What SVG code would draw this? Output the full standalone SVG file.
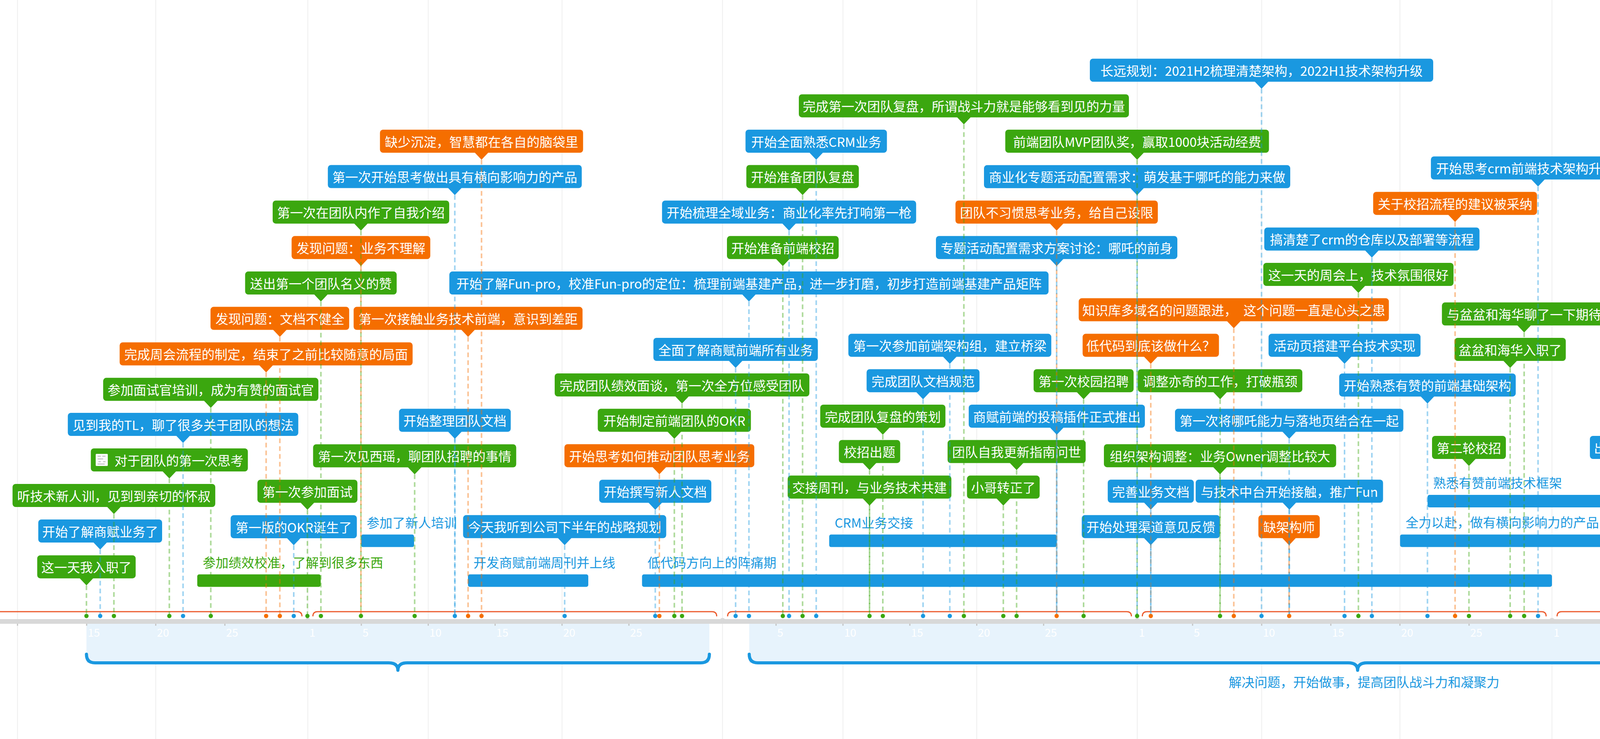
<svg xmlns="http://www.w3.org/2000/svg" width="6920" height="1892" viewBox="0 0 6920 1892">
<style>
text{font-family:"Noto Sans CJK SC","Noto Sans",sans-serif}
.node text{fill:#fff;font-size:33px;text-anchor:middle;dominant-baseline:central}
.b{fill:#1a98e0}.g{fill:#3ba70f}.o{fill:#f56e00}
.c path{fill:none;stroke-width:4;stroke-dasharray:12 8;stroke-opacity:.42}
.cb{stroke:#1a98e0}.cg{stroke:#3ba70f}.co{stroke:#f56e00}
.rt{font-size:33px;dominant-baseline:central}
.tick{fill:#fff;font-size:28px;dominant-baseline:central}
.grid line{stroke:#eeeeee;stroke-width:2}
.red{fill:none;stroke:#ec5a2c;stroke-width:3}
.brace{fill:none;stroke:#1a98e0;stroke-width:8;stroke-linecap:round;stroke-linejoin:round}
.band{fill:#e7f3fc}
.bl{fill:#1a98e0;font-size:33px;text-anchor:middle;dominant-baseline:central}
</style>
<rect width="6920" height="1892" fill="#fff"/>
<g id="grid" class="grid">
<line x1="44.8" y1="0" x2="44.8" y2="1892"/><line x1="398.7" y1="0" x2="398.7" y2="1892"/><line x1="788" y1="0" x2="788" y2="1892"/><line x1="1096.3" y1="0" x2="1096.3" y2="1892"/><line x1="1438.8" y1="0" x2="1438.8" y2="1892"/><line x1="1849.7" y1="0" x2="1849.7" y2="1892"/><line x1="2158" y1="0" x2="2158" y2="1892"/><line x1="2500.5" y1="0" x2="2500.5" y2="1892"/><line x1="2911.4" y1="0" x2="2911.4" y2="1892"/><line x1="3229.9" y1="0" x2="3229.9" y2="1892"/><line x1="3583.8" y1="0" x2="3583.8" y2="1892"/><line x1="3973.1" y1="0" x2="3973.1" y2="1892"/><line x1="4281.4" y1="0" x2="4281.4" y2="1892"/><line x1="4623.9" y1="0" x2="4623.9" y2="1892"/><line x1="5034.8" y1="0" x2="5034.8" y2="1892"/><line x1="5353.3" y1="0" x2="5353.3" y2="1892"/><line x1="5707.2" y1="0" x2="5707.2" y2="1892"/><line x1="6096.5" y1="0" x2="6096.5" y2="1892"/><line x1="6404.8" y1="0" x2="6404.8" y2="1892"/><line x1="6747.3" y1="0" x2="6747.3" y2="1892"/>
</g>
<g id="phases">
<rect class="band" x="221.3" y="1597" width="1594.7" height="100"/>
<rect class="band" x="1918" y="1597" width="3115" height="100"/>
<rect class="band" x="5070" y="1597" width="1471" height="100"/>
<path class="brace" d="M221.3 1675Q221.3 1697 243.3 1697H994.6Q1018.6 1697 1018.6 1716Q1018.6 1697 1042.6 1697H1794Q1816 1697 1816 1675"/>
<path class="brace" d="M1918 1675Q1918 1697 1940 1697H3451.5Q3475.5 1697 3475.5 1716Q3475.5 1697 3499.5 1697H5011Q5033 1697 5033 1675"/>
<path class="brace" d="M5070 1675Q5070 1697 5092 1697H5781.5Q5805.5 1697 5805.5 1716Q5805.5 1697 5829.5 1697H6519Q6541 1697 6541 1675"/>
<text class="bl" x="3492" y="1745">解决问题，开始做事，提高团队战斗力和凝聚力</text>
<text class="bl" x="5818" y="1745">全面熟悉业务，步入正轨</text>
</g>
<g id="axis">
<rect x="0" y="1585" width="6920" height="12" fill="#d8d8d8"/>
<g fill="#d8d8d8"><circle cx="788" cy="1589" r="7"/><circle cx="1849.7" cy="1589" r="7"/><circle cx="2911.4" cy="1589" r="7"/><circle cx="3973.1" cy="1589" r="7"/><circle cx="5034.8" cy="1589" r="7"/><circle cx="6096.5" cy="1589" r="7"/></g>
<g stroke="#c4c4c4" stroke-width="3">
<path d="M44.8 1597v5M221.8 1597v5M398.7 1597v5M575.7 1597v5M925 1597v5M1096.3 1597v5M1267.5 1597v5M1438.8 1597v5M1610 1597v5M1986.7 1597v5M2158 1597v5M2329.2 1597v5M2500.5 1597v5M2671.7 1597v5M3053 1597v5M3229.9 1597v5M3406.9 1597v5M3583.8 1597v5M3760.8 1597v5M4110.1 1597v5M4281.4 1597v5M4452.6 1597v5M4623.9 1597v5M4795.1 1597v5M5176.4 1597v5M5353.3 1597v5M5530.3 1597v5M5707.2 1597v5M5884.2 1597v5M6233.5 1597v5M6404.8 1597v5M6576 1597v5M6747.3 1597v5"/>
</g>
<path class="red" d="M-260 1578Q-260 1566 -248 1566H761Q773 1566 773 1578"/>
<path class="red" d="M801 1578Q801 1566 813 1566H1822.7Q1834.7 1566 1834.7 1578"/>
<path class="red" d="M1862.7 1578Q1862.7 1566 1874.7 1566H2884.4Q2896.4 1566 2896.4 1578"/>
<path class="red" d="M2924.4 1578Q2924.4 1566 2936.4 1566H3946.1Q3958.1 1566 3958.1 1578"/>
<path class="red" d="M3986.1 1578Q3986.1 1566 3998.1 1566H5007.8Q5019.8 1566 5019.8 1578"/>
<path class="red" d="M5047.8 1578Q5047.8 1566 5059.8 1566H6069.5Q6081.5 1566 6081.5 1578"/>
<path class="red" d="M6109.5 1578Q6109.5 1566 6121.5 1566H7131Q7143 1566 7143 1578"/>
<g class="tick">
<text x="47.8" y="1618">10</text><text x="224.8" y="1618">15</text><text x="401.7" y="1618">20</text><text x="578.7" y="1618">25</text>
<text x="792" y="1618">1</text><text x="928" y="1618">5</text><text x="1099.3" y="1618">10</text><text x="1270.5" y="1618">15</text><text x="1441.8" y="1618">20</text><text x="1613" y="1618">25</text>
<text x="1853.7" y="1618">1</text><text x="1989.7" y="1618">5</text><text x="2161" y="1618">10</text><text x="2332.2" y="1618">15</text><text x="2503.5" y="1618">20</text><text x="2674.7" y="1618">25</text>
<text x="2915.4" y="1618">1</text><text x="3056" y="1618">5</text><text x="3232.9" y="1618">10</text><text x="3409.9" y="1618">15</text><text x="3586.8" y="1618">20</text><text x="3763.8" y="1618">25</text>
<text x="3977.1" y="1618">1</text><text x="4113.1" y="1618">5</text><text x="4284.4" y="1618">10</text><text x="4455.6" y="1618">15</text><text x="4626.9" y="1618">20</text><text x="4798.1" y="1618">25</text>
<text x="5038.8" y="1618">1</text><text x="5179.4" y="1618">5</text><text x="5356.3" y="1618">10</text><text x="5533.3" y="1618">15</text><text x="5710.2" y="1618">20</text><text x="5887.2" y="1618">25</text>
<text x="6100.5" y="1618">1</text><text x="6236.5" y="1618">5</text><text x="6407.8" y="1618">10</text><text x="6579" y="1618">15</text><text x="6750.3" y="1618">20</text>
</g>
</g>
<g id="ranges">
<g id="r1" class="b"><text class="rt" x="938.5" y="1336.6">参加了新人培训</text><rect x="924.5" y="1368.6" width="135.5" height="32" rx="5"/></g>
<g id="r2" class="g"><text class="rt" x="519" y="1438.5">参加绩效校准，了解到很多东西</text><rect x="505" y="1470.5" width="316" height="32" rx="5"/></g>
<g id="r3" class="b"><text class="rt" x="1212" y="1438.5">开发商赋前端周刊并上线</text><rect x="1198" y="1470.5" width="308" height="32" rx="5"/></g>
<g id="r4" class="b"><text class="rt" x="1657.6" y="1438.5">低代码方向上的阵痛期</text><rect x="1643.6" y="1470.5" width="2329.4" height="32" rx="5"/></g>
<g id="r5" class="b"><text class="rt" x="2136.7" y="1336.6">CRM业务交接</text><rect x="2122.7" y="1368.6" width="582.3" height="32" rx="5"/></g>
<g id="r6" class="b"><text class="rt" x="3668.6" y="1235">熟悉有赞前端技术框架</text><rect x="3654.6" y="1267" width="626" height="32" rx="5"/></g>
<g id="r7" class="b"><text class="rt" x="3598.2" y="1336.4">全力以赴，做有横向影响力的产品：哪吒</text><rect x="3584.2" y="1368.4" width="2476.4" height="32" rx="5"/></g>
<g id="r8" class="b"><text class="rt" x="5155.3" y="1235">优化fun-pro，并熟悉fun-pro的代码以及逻辑</text><rect x="5141.3" y="1267" width="352.8" height="32" rx="5"/></g>
<g id="r9" class="b"><text class="rt" x="4946.4" y="1438.5">fun组件库接入npm platform</text><rect x="4932.4" y="1470.5" width="172.9" height="32" rx="5"/></g>
</g>
<g id="nodes">
<g id="n1" class="node o"><rect x="972.7" y="332" width="520" height="59" rx="8"/><path d="M1214.7 390L1232.7 409L1250.7 390Z"/><text x="1232.7" y="361.5">缺少沉淀，智慧都在各自的脑袋里</text></g>
<g id="n2" class="node b"><rect x="839.3" y="422.5" width="650" height="59" rx="8"/><path d="M1146.3 480.5L1164.3 499.5L1182.3 480.5Z"/><text x="1164.3" y="452">第一次开始思考做出具有横向影响力的产品</text></g>
<g id="n3" class="node g"><rect x="698" y="513.4" width="452" height="59" rx="8"/><path d="M906 571.4L924 590.4L942 571.4Z"/><text x="924" y="542.9">第一次在团队内作了自我介绍</text></g>
<g id="n4" class="node o"><rect x="746.5" y="604.3" width="355" height="59" rx="8"/><path d="M906 662.3L924 681.3L942 662.3Z"/><text x="924" y="633.8">发现问题：业务不理解</text></g>
<g id="n5" class="node g"><rect x="627.5" y="695.1" width="388" height="59" rx="8"/><path d="M803.5 753.1L821.5 772.1L839.5 753.1Z"/><text x="821.5" y="724.6">送出第一个团队名义的赞</text></g>
<g id="n6" class="node b"><rect x="1150.3" y="695.1" width="1534" height="59" rx="8"/><path d="M1899.3 753.1L1917.3 772.1L1935.3 753.1Z"/><text x="1917.3" y="724.6">开始了解Fun-pro，校准Fun-pro的定位：梳理前端基建产品，进一步打磨，初步打造前端基建产品矩阵</text></g>
<g id="n7" class="node o"><rect x="538.9" y="785.6" width="355" height="59" rx="8"/><path d="M698.4 843.6L716.4 862.6L734.4 843.6Z"/><text x="716.4" y="815.1">发现问题：文档不健全</text></g>
<g id="n8" class="node o"><rect x="905.3" y="785.6" width="586" height="59" rx="8"/><path d="M1180.3 843.6L1198.3 862.6L1216.3 843.6Z"/><text x="1198.3" y="815.1">第一次接触业务技术前端，意识到差距</text></g>
<g id="n9" class="node o"><rect x="306.3" y="876.5" width="750" height="59" rx="8"/><path d="M663.3 934.5L681.3 953.5L699.3 934.5Z"/><text x="681.3" y="906">完成周会流程的制定，结束了之前比较随意的局面</text></g>
<g id="n10" class="node g"><rect x="264.1" y="967.3" width="551" height="59" rx="8"/><path d="M521.6 1025.3L539.6 1044.3L557.6 1025.3Z"/><text x="539.6" y="996.8">参加面试官培训，成为有赞的面试官</text></g>
<g id="n12" class="node b"><rect x="173.6" y="1057" width="590" height="59" rx="8"/><path d="M450.6 1115L468.6 1134L486.6 1115Z"/><text x="468.6" y="1086.5">见到我的TL，聊了很多关于团队的想法</text></g>
<g id="n13" class="node g"><rect x="232.5" y="1148" width="402" height="59" rx="8"/><path d="M415.5 1206L433.5 1225L451.5 1206Z"/><rect x="245" y="1162" width="31" height="31" rx="2" fill="#fafafa"/><path d="M250 1168h8M262 1168h8M250 1175h14M252 1182h6M264 1182h6M250 1188h18" stroke="#b8b8b8" stroke-width="2"/><text x="458" y="1177.5">对于团队的第一次思考</text></g>
<g id="n14" class="node g"><rect x="32.1" y="1239" width="519" height="59" rx="8"/><path d="M273.6 1297L291.6 1316L309.6 1297Z"/><text x="291.6" y="1268.5">听技术新人训，见到到亲切的怀叔</text></g>
<g id="n15" class="node b"><rect x="98" y="1330" width="317" height="59" rx="8"/><path d="M238.5 1388L256.5 1407L274.5 1388Z"/><text x="256.5" y="1359.5">开始了解商赋业务了</text></g>
<g id="n16" class="node g"><rect x="95.3" y="1421.7" width="252" height="59" rx="8"/><path d="M203.3 1479.7L221.3 1498.7L239.3 1479.7Z"/><text x="221.3" y="1451.2">这一天我入职了</text></g>
<g id="n17" class="node g"><rect x="659" y="1228.2" width="256" height="59" rx="8"/><path d="M769 1286.2L787 1305.2L805 1286.2Z"/><text x="787" y="1257.7">第一次参加面试</text></g>
<g id="n18" class="node b"><rect x="590.5" y="1319" width="323" height="59" rx="8"/><path d="M734 1377L752 1396L770 1377Z"/><text x="752" y="1348.5">第一版的OKR诞生了</text></g>
<g id="n21" class="node b"><rect x="1021.5" y="1046.6" width="286" height="59" rx="8"/><path d="M1146.5 1104.6L1164.5 1123.6L1182.5 1104.6Z"/><text x="1164.5" y="1076.1">开始整理团队文档</text></g>
<g id="n22" class="node g"><rect x="801.5" y="1137.5" width="520" height="59" rx="8"/><path d="M1043.5 1195.5L1061.5 1214.5L1079.5 1195.5Z"/><text x="1061.5" y="1167">第一次见西瑶，聊团队招聘的事情</text></g>
<g id="n24" class="node b"><rect x="1185.5" y="1318.8" width="520" height="59" rx="8"/><path d="M1427.5 1376.8L1445.5 1395.8L1463.5 1376.8Z"/><text x="1445.5" y="1348.3">今天我听到公司下半年的战略规划</text></g>
<g id="n25" class="node b"><rect x="1534" y="1228.2" width="287" height="59" rx="8"/><path d="M1659.5 1286.2L1677.5 1305.2L1695.5 1286.2Z"/><text x="1677.5" y="1257.7">开始撰写新人文档</text></g>
<g id="n26" class="node o"><rect x="1445" y="1137.2" width="486" height="59" rx="8"/><path d="M1670 1195.2L1688 1214.2L1706 1195.2Z"/><text x="1688" y="1166.7">开始思考如何推动团队思考业务</text></g>
<g id="n27" class="node g"><rect x="1530.3" y="1046.6" width="392" height="59" rx="8"/><path d="M1708.3 1104.6L1726.3 1123.6L1744.3 1104.6Z"/><text x="1726.3" y="1076.1">开始制定前端团队的OKR</text></g>
<g id="n28" class="node g"><rect x="1420" y="956" width="652" height="59" rx="8"/><path d="M1728 1014L1746 1033L1764 1014Z"/><text x="1746" y="985.5">完成团队绩效面谈，第一次全方位感受团队</text></g>
<g id="n29" class="node b"><rect x="1672.7" y="865" width="421" height="59" rx="8"/><path d="M1865.2 923L1883.2 942L1901.2 923Z"/><text x="1883.2" y="894.5">全面了解商赋前端所有业务</text></g>
<g id="n34" class="node g"><rect x="2147.5" y="1126.4" width="157" height="59" rx="8"/><path d="M2208 1184.4L2226 1203.4L2244 1184.4Z"/><text x="2226" y="1155.9">校招出题</text></g>
<g id="n35" class="node g"><rect x="2016.5" y="1217.4" width="419" height="59" rx="8"/><path d="M2208 1275.4L2226 1294.4L2244 1275.4Z"/><text x="2226" y="1246.9">交接周刊，与业务技术共建</text></g>
<g id="n36" class="node g"><rect x="2099.8" y="1036" width="320.5" height="59" rx="8"/><path d="M2242 1094L2260 1113L2278 1094Z"/><text x="2260" y="1065.5">完成团队复盘的策划</text></g>
<g id="n37" class="node b"><rect x="2218.5" y="945.2" width="289" height="59" rx="8"/><path d="M2345 1003.2L2363 1022.2L2381 1003.2Z"/><text x="2363" y="974.7">完成团队文档规范</text></g>
<g id="n38" class="node b"><rect x="2171.8" y="854.6" width="519.5" height="59" rx="8"/><path d="M2413.5 912.6L2431.5 931.6L2449.5 912.6Z"/><text x="2431.5" y="884.1">第一次参加前端架构组，建立桥梁</text></g>
<g id="n39" class="node b"><rect x="1908.5" y="332" width="362" height="59" rx="8"/><path d="M2071.5 390L2089.5 409L2107.5 390Z"/><text x="2089.5" y="361.5">开始全面熟悉CRM业务</text></g>
<g id="n40" class="node g"><rect x="1910.6" y="422.5" width="288" height="59" rx="8"/><path d="M2036.6 480.5L2054.6 499.5L2072.6 480.5Z"/><text x="2054.6" y="452">开始准备团队复盘</text></g>
<g id="n41" class="node b"><rect x="1694.8" y="513.4" width="650.5" height="59" rx="8"/><path d="M2002 571.4L2020 590.4L2038 571.4Z"/><text x="2020" y="542.9">开始梳理全域业务：商业化率先打响第一枪</text></g>
<g id="n42" class="node g"><rect x="1861" y="604.3" width="286" height="59" rx="8"/><path d="M1986 662.3L2004 681.3L2022 662.3Z"/><text x="2004" y="633.8">开始准备前端校招</text></g>
<g id="n43" class="node g"><rect x="2045" y="241.4" width="845" height="59" rx="8"/><path d="M2449.5 299.4L2467.5 318.4L2485.5 299.4Z"/><text x="2467.5" y="270.9">完成第一次团队复盘，所谓战斗力就是能够看到见的力量</text></g>
<g id="n44" class="node b"><rect x="2790" y="150.2" width="879" height="59" rx="8"/><path d="M3211.5 208.2L3229.5 227.2L3247.5 208.2Z"/><text x="3229.5" y="179.7">长远规划：2021H2梳理清楚架构，2022H1技术架构升级</text></g>
<g id="n45" class="node g"><rect x="2573.5" y="332" width="675" height="59" rx="8"/><path d="M2893 390L2911 409L2929 390Z"/><text x="2911" y="361.5">前端团队MVP团队奖，赢取1000块活动经费</text></g>
<g id="n46" class="node b"><rect x="2519" y="422.8" width="784" height="59" rx="8"/><path d="M2893 480.8L2911 499.8L2929 480.8Z"/><text x="2911" y="452.3">商业化专题活动配置需求：萌发基于哪吒的能力来做</text></g>
<g id="n47" class="node o"><rect x="2446" y="513.5" width="518" height="59" rx="8"/><path d="M2687 571.5L2705 590.5L2723 571.5Z"/><text x="2705" y="543">团队不习惯思考业务，给自己设限</text></g>
<g id="n48" class="node b"><rect x="2396" y="604.2" width="618" height="59" rx="8"/><path d="M2687 662.2L2705 681.2L2723 662.2Z"/><text x="2705" y="633.7">专题活动配置需求方案讨论：哪吒的前身</text></g>
<g id="n49" class="node o"><rect x="2761.5" y="763.6" width="794" height="59" rx="8"/><path d="M3140.5 821.6L3158.5 840.6L3176.5 821.6Z"/><text x="3158.5" y="793.1">知识库多域名的问题跟进，　这个问题一直是心头之患</text></g>
<g id="n50" class="node o"><rect x="2771.5" y="854.6" width="349" height="59" rx="8"/><path d="M2928 912.6L2946 931.6L2964 912.6Z"/><text x="2946" y="884.1">低代码到底该做什么？</text></g>
<g id="n51" class="node g"><rect x="2646" y="945.2" width="256" height="59" rx="8"/><path d="M2756 1003.2L2774 1022.2L2792 1003.2Z"/><text x="2774" y="974.7">第一次校园招聘</text></g>
<g id="n52" class="node g"><rect x="2913" y="945.2" width="421" height="59" rx="8"/><path d="M3105.5 1003.2L3123.5 1022.2L3141.5 1003.2Z"/><text x="3123.5" y="974.7">调整亦奇的工作，打破瓶颈</text></g>
<g id="n53" class="node b"><rect x="3236.5" y="582.5" width="551" height="59" rx="8"/><path d="M3494 640.5L3512 659.5L3530 640.5Z"/><text x="3512" y="612">搞清楚了crm的仓库以及部署等流程</text></g>
<g id="n54" class="node g"><rect x="3234" y="673" width="487" height="59" rx="8"/><path d="M3459.5 731L3477.5 750L3495.5 731Z"/><text x="3477.5" y="702.5">这一天的周会上，技术氛围很好</text></g>
<g id="n55" class="node b"><rect x="3247.5" y="854.6" width="389" height="59" rx="8"/><path d="M3424 912.6L3442 931.6L3460 912.6Z"/><text x="3442" y="884.1">活动页搭建平台技术实现</text></g>
<g id="n56" class="node b"><rect x="3428.3" y="956.2" width="452" height="59" rx="8"/><path d="M3636.3 1014.2L3654.3 1033.2L3672.3 1014.2Z"/><text x="3654.3" y="985.7">开始熟悉有赞的前端基础架构</text></g>
<g id="n57" class="node b"><rect x="2479.9" y="1036" width="451" height="59" rx="8"/><path d="M2687.4 1094L2705.4 1113L2723.4 1094Z"/><text x="2705.4" y="1065.5">商赋前端的投稿插件正式推出</text></g>
<g id="n58" class="node g"><rect x="2425.8" y="1126.6" width="353.5" height="59" rx="8"/><path d="M2584.5 1184.6L2602.5 1203.6L2620.5 1184.6Z"/><text x="2602.5" y="1156.1">团队自我更新指南问世</text></g>
<g id="n59" class="node g"><rect x="2475.5" y="1217.6" width="186" height="59" rx="8"/><path d="M2550.5 1275.6L2568.5 1294.6L2586.5 1275.6Z"/><text x="2568.5" y="1247.1">小哥转正了</text></g>
<g id="n60" class="node b"><rect x="3008" y="1046.6" width="584.6" height="59" rx="8"/><path d="M3282.3 1104.6L3300.3 1123.6L3318.3 1104.6Z"/><text x="3300.3" y="1076.1">第一次将哪吒能力与落地页结合在一起</text></g>
<g id="n61" class="node g"><rect x="2826" y="1137.2" width="594.5" height="59" rx="8"/><path d="M3105.2 1195.2L3123.2 1214.2L3141.2 1195.2Z"/><text x="3123.2" y="1166.7">组织架构调整：业务Owner调整比较大</text></g>
<g id="n62" class="node b"><rect x="2835.8" y="1228" width="220.4" height="59" rx="8"/><path d="M2928 1286L2946 1305L2964 1286Z"/><text x="2946" y="1257.5">完善业务文档</text></g>
<g id="n63" class="node b"><rect x="3060.9" y="1228" width="479.7" height="59" rx="8"/><path d="M3282.7 1286L3300.7 1305L3318.7 1286Z"/><text x="3300.7" y="1257.5">与技术中台开始接触，推广Fun</text></g>
<g id="n64" class="node b"><rect x="2769.3" y="1318.8" width="353.5" height="59" rx="8"/><path d="M2928 1376.8L2946 1395.8L2964 1376.8Z"/><text x="2946" y="1348.3">开始处理渠道意见反馈</text></g>
<g id="n65" class="node o"><rect x="3221.5" y="1318.8" width="157" height="59" rx="8"/><path d="M3282 1376.8L3300 1395.8L3318 1376.8Z"/><text x="3300" y="1348.3">缺架构师</text></g>
<g id="n66" class="node b"><rect x="3663.1" y="400.5" width="548.7" height="59" rx="8"/><path d="M3919.4 458.5L3937.4 477.5L3955.4 458.5Z"/><text x="3937.4" y="430">开始思考crm前端技术架构升级方案</text></g>
<g id="n67" class="node o"><rect x="3515.3" y="491.2" width="419.4" height="59" rx="8"/><path d="M3707 549.2L3725 568.2L3743 549.2Z"/><text x="3725" y="520.7">关于校招流程的建议被采纳</text></g>
<g id="n68" class="node g"><rect x="3691.3" y="774.3" width="421" height="59" rx="8"/><path d="M3883.8 832.3L3901.8 851.3L3919.8 832.3Z"/><text x="3901.8" y="803.8">与盆盆和海华聊了一下期待</text></g>
<g id="n69" class="node g"><rect x="3723.7" y="865" width="284.7" height="59" rx="8"/><path d="M3848 923L3866 942L3884 923Z"/><text x="3866" y="894.5">盆盆和海华入职了</text></g>
<g id="n70" class="node g"><rect x="4620.5" y="571.4" width="553" height="59" rx="8"/><path d="M4879 629.4L4897 648.4L4915 629.4Z"/><text x="4897" y="600.9">听怀叔分享，如何打造敏捷技术团队</text></g>
<g id="n71" class="node b"><rect x="4612.2" y="662" width="433.7" height="59" rx="8"/><path d="M4811 720L4829 739L4847 720Z"/><text x="4829" y="691.5">fun-pro接入npm platform</text></g>
<g id="n72" class="node b"><rect x="4502.2" y="753" width="380" height="59" rx="8"/><path d="M4674.2 811L4692.2 830L4710.2 811Z"/><text x="4692.2" y="782.5">开始看《精益数据分析》</text></g>
<g id="n73" class="node g"><rect x="4237.7" y="843.6" width="427.8" height="59" rx="8"/><path d="M4433.6 901.6L4451.6 920.6L4469.6 901.6Z"/><text x="4451.6" y="873.1">确定了新同学的试用期OKR</text></g>
<g id="n74" class="node b"><rect x="4224.1" y="934.6" width="319" height="59" rx="8"/><path d="M4365.6 992.6L4383.6 1011.6L4401.6 992.6Z"/><text x="4383.6" y="964.1">最终确定哪吒的方向</text></g>
<g id="n75" class="node g"><rect x="4556.1" y="934.6" width="272.2" height="59" rx="8"/><path d="M4674.2 992.6L4692.2 1011.6L4710.2 992.6Z"/><text x="4692.2" y="964.1">1024技术嘉年华</text></g>
<g id="n76" class="node g"><rect x="4174.2" y="1025" width="418.6" height="59" rx="8"/><path d="M4365.5 1083L4383.5 1102L4401.5 1083Z"/><text x="4383.5" y="1054.5">开始开发哪吒系统实现方案</text></g>
<g id="n77" class="node g"><rect x="4615.1" y="1036" width="222.5" height="59" rx="8"/><path d="M4708.3 1094L4726.3 1113L4744.3 1094Z"/><text x="4726.3" y="1065.5">最后一轮校招</text></g>
<g id="n78" class="node g"><rect x="3666" y="1116" width="189" height="59" rx="8"/><path d="M3742.5 1174L3760.5 1193L3778.5 1174Z"/><text x="3760.5" y="1145.5">第二轮校招</text></g>
<g id="n79" class="node b"><rect x="4070.1" y="1116" width="284.7" height="59" rx="8"/><path d="M4194.4 1174L4212.4 1193L4230.4 1174Z"/><text x="4212.4" y="1145.5">出校招前端笔试题</text></g>
<g id="n80" class="node g"><rect x="4530" y="1126.6" width="256" height="59" rx="8"/><path d="M4640 1184.6L4658 1203.6L4676 1184.6Z"/><text x="4658" y="1156.1">与怀叔聊了一下</text></g>
<g id="n83" class="node b"><rect x="4394" y="1217.6" width="526" height="59" rx="8"/><path d="M4639 1275.6L4657 1294.6L4675 1275.6Z"/><text x="4657" y="1247.1">开始投入NPM接入发布平台的事情</text></g>
<g id="n84" class="node g"><rect x="4134.5" y="1421.7" width="156" height="59" rx="8"/><path d="M4194.5 1479.7L4212.5 1498.7L4230.5 1479.7Z"/><text x="4212.5" y="1451.2">月龙转正</text></g>
<g id="n85" class="node b"><rect x="4378.7" y="1421.7" width="352.5" height="59" rx="8"/><path d="M4536.9 1479.7L4554.9 1498.7L4572.9 1479.7Z"/><text x="4554.9" y="1451.2">完成哪吒系统设计方案</text></g>
<g id="n86" class="node b"><rect x="4953.1" y="389.5" width="588.5" height="59" rx="8"/><path d="M5229.3 447.5L5247.3 466.5L5265.3 447.5Z"/><text x="5247.3" y="419">搭建fun-cli的调试程序，提高调试效率</text></g>
<g id="n87" class="node g"><rect x="4721.9" y="480.6" width="419.4" height="59" rx="8"/><path d="M4913.6 538.6L4931.6 557.6L4949.6 538.6Z"/><text x="4931.6" y="510.1">开始筹备与测试的联合团建</text></g>
<g id="n88" class="node b"><rect x="4966.9" y="753" width="489" height="59" rx="8"/><path d="M5193.4 811L5211.4 830L5229.4 811Z"/><text x="5211.4" y="782.5">增加了统一的工程规范和工作流</text></g>
<g id="n89" class="node g"><rect x="4704.3" y="843.6" width="386.5" height="59" rx="8"/><path d="M4879.5 901.6L4897.5 920.6L4915.5 901.6Z"/><text x="4897.5" y="873.1">一起爬山人数最多的一次</text></g>
<g id="n90" class="node g"><rect x="5103.8" y="854.6" width="287" height="59" rx="8"/><path d="M5229.3 912.6L5247.3 931.6L5265.3 912.6Z"/><text x="5247.3" y="884.1">准备前端新人夜谈</text></g>
<g id="n91" class="node b"><rect x="4835.3" y="945.2" width="469" height="59" rx="8"/><path d="M5051.8 1003.2L5069.8 1022.2L5087.8 1003.2Z"/><text x="5069.8" y="974.7">沉淀fun-webhook的维护文档</text></g>
<g id="n92" class="node b"><rect x="5555.3" y="662" width="586.4" height="59" rx="8"/><path d="M5830.5 720L5848.5 739L5866.5 720Z"/><text x="5848.5" y="691.5">思考统一有赞内部中后台建站解决方案</text></g>
<g id="n93" class="node b"><rect x="5602.8" y="753" width="491.4" height="59" rx="8"/><path d="M5830.5 811L5848.5 830L5866.5 811Z"/><text x="5848.5" y="782.5">跟进并处理mac系统滚动条事情</text></g>
<g id="n94" class="node g"><rect x="5517" y="843.6" width="521.4" height="59" rx="8"/><path d="M5759.7 901.6L5777.7 920.6L5795.7 901.6Z"/><text x="5777.7" y="873.1">有赞前端文档更新优化机制的调研</text></g>
<g id="n95" class="node b"><rect x="5552.2" y="934.6" width="451.6" height="59" rx="8"/><path d="M5760 992.6L5778 1011.6L5796 992.6Z"/><text x="5778" y="964.1">考虑搭建能力在中后台的应用</text></g>
<g id="n96" class="node b"><rect x="5321.9" y="1025" width="486.8" height="59" rx="8"/><path d="M5547.3 1083L5565.3 1102L5583.3 1083Z"/><text x="5565.3" y="1054.5">跟进错误治理问题，接入调用链</text></g>
<g id="n97" class="node b"><rect x="5827" y="1025" width="607" height="59" rx="8"/><path d="M6112.5 1083L6130.5 1102L6148.5 1083Z"/><text x="6130.5" y="1054.5">给后端同学讲解fun-pro，教授建站技巧</text></g>
<g id="n98" class="node b"><rect x="4846.7" y="1116" width="375.7" height="59" rx="8"/><path d="M5016.5 1174L5034.5 1193L5052.5 1174Z"/><text x="5034.5" y="1145.5">熟悉fun的开发部署流程</text></g>
<g id="n99" class="node b"><rect x="5351.7" y="1116" width="356.6" height="59" rx="8"/><path d="M5512 1174L5530 1193L5548 1174Z"/><text x="5530" y="1145.5">解决fun-cli发布的问题</text></g>
<g id="n100" class="node b"><rect x="5799.7" y="1116" width="310.7" height="59" rx="8"/><path d="M5937 1174L5955 1193L5973 1174Z"/><text x="5955" y="1145.5">发布新版的fun-pro</text></g>
<g id="n103" class="node g"><rect x="5614.2" y="1421.6" width="255.7" height="59" rx="8"/><path d="M5724 1479.6L5742 1498.6L5760 1479.6Z"/><text x="5742" y="1451.1">专有名词大扫荡</text></g>
<g id="n104" class="node g"><rect x="5864.6" y="1217.6" width="321.4" height="59" rx="8"/><path d="M6007.3 1275.6L6025.3 1294.6L6043.3 1275.6Z"/><text x="6025.3" y="1247.1">开始总结半年的工作</text></g>
<g id="n105" class="node g"><rect x="6248" y="1421.6" width="586" height="59" rx="8"/><path d="M6523 1479.6L6541 1498.6L6559 1479.6Z"/><text x="6541" y="1451.1">这一天我成为有赞大家庭中正式的一员</text></g>
</g>
<g id="connectors" class="c">
<path class="co" d="M1232.7 409V1572"/><path class="cb" d="M1164.3 499.5V1572"/><path class="cg" d="M924 590.4V1572"/><path class="co" d="M924 681.3V1572"/><path class="cg" d="M821.5 772.1V1572"/><path class="cb" d="M1917.3 772.1V1572"/><path class="co" d="M716.4 862.6V1572"/><path class="co" d="M1198.3 862.6V1572"/><path class="co" d="M681.3 953.5V1572"/><path class="cg" d="M539.6 1044.3V1572"/><path class="cb" d="M468.6 1134V1572"/><path class="cg" d="M433.5 1225V1572"/><path class="cg" d="M291.6 1316V1572"/><path class="cb" d="M256.5 1407V1572"/><path class="cg" d="M221.3 1498.7V1572"/><path class="cg" d="M787 1305.2V1572"/><path class="cb" d="M752 1396V1572"/><path class="cb" d="M1164.5 1123.6V1572"/><path class="cg" d="M1061.5 1214.5V1572"/><path class="cb" d="M1445.5 1395.8V1572"/><path class="cb" d="M1677.5 1305.2V1572"/><path class="co" d="M1688 1214.2V1572"/><path class="cg" d="M1726.3 1123.6V1572"/><path class="cg" d="M1746 1033V1572"/><path class="cb" d="M1883.2 942V1572"/><path class="cg" d="M2226 1203.4V1572"/><path class="cg" d="M2226 1294.4V1572"/><path class="cg" d="M2260 1113V1572"/><path class="cb" d="M2363 1022.2V1572"/><path class="cb" d="M2431.5 931.6V1572"/><path class="cb" d="M2089.5 409V1572"/><path class="cg" d="M2054.6 499.5V1572"/><path class="cb" d="M2020 590.4V1572"/><path class="cg" d="M2004 681.3V1572"/><path class="cg" d="M2467.5 318.4V1572"/><path class="cb" d="M3229.5 227.2V1572"/><path class="cg" d="M2911 409V1572"/><path class="cb" d="M2911 499.8V1572"/><path class="co" d="M2705 590.5V1572"/><path class="cb" d="M2705 681.2V1572"/><path class="co" d="M3158.5 840.6V1572"/><path class="co" d="M2946 931.6V1572"/><path class="cg" d="M2774 1022.2V1572"/><path class="cg" d="M3123.5 1022.2V1572"/><path class="cb" d="M3512 659.5V1572"/><path class="cg" d="M3477.5 750V1572"/><path class="cb" d="M3442 931.6V1572"/><path class="cb" d="M3654.3 1033.2V1572"/><path class="cb" d="M2705.4 1113V1572"/><path class="cg" d="M2602.5 1203.6V1572"/><path class="cg" d="M2568.5 1294.6V1572"/><path class="cb" d="M3300.3 1123.6V1572"/><path class="cg" d="M3123.2 1214.2V1572"/><path class="cb" d="M2946 1305V1572"/><path class="cb" d="M3300.7 1305V1572"/><path class="cb" d="M2946 1395.8V1572"/><path class="co" d="M3300 1395.8V1572"/><path class="cb" d="M3937.4 477.5V1572"/><path class="co" d="M3725 568.2V1572"/><path class="cg" d="M3901.8 851.3V1572"/><path class="cg" d="M3866 942V1572"/><path class="cg" d="M4897 648.4V1572"/><path class="cb" d="M4829 739V1572"/><path class="cb" d="M4692.2 830V1572"/><path class="cg" d="M4451.6 920.6V1572"/><path class="cb" d="M4383.6 1011.6V1572"/><path class="cg" d="M4692.2 1011.6V1572"/><path class="cg" d="M4383.5 1102V1572"/><path class="cg" d="M4726.3 1113V1572"/><path class="cg" d="M3760.5 1193V1572"/><path class="cb" d="M4212.4 1193V1572"/><path class="cg" d="M4658 1203.6V1572"/><path class="cb" d="M4657 1294.6V1572"/><path class="cg" d="M4212.5 1498.7V1572"/><path class="cb" d="M4554.9 1498.7V1572"/><path class="cb" d="M5247.3 466.5V1572"/><path class="cg" d="M4931.6 557.6V1572"/><path class="cb" d="M5211.4 830V1572"/><path class="cg" d="M4897.5 920.6V1572"/><path class="cg" d="M5247.3 931.6V1572"/><path class="cb" d="M5069.8 1022.2V1572"/><path class="cb" d="M5848.5 739V1572"/><path class="cb" d="M5848.5 830V1572"/><path class="cg" d="M5777.7 920.6V1572"/><path class="cb" d="M5778 1011.6V1572"/><path class="cb" d="M5565.3 1102V1572"/><path class="cb" d="M6130.5 1102V1572"/><path class="cb" d="M5034.5 1193V1572"/><path class="cb" d="M5530 1193V1572"/><path class="cb" d="M5955 1193V1572"/><path class="cg" d="M5742 1498.6V1572"/><path class="cg" d="M6025.3 1294.6V1572"/><path class="cg" d="M6541 1498.6V1572"/>
</g>
<g id="dots">
<g class="g"><circle cx="221.3" cy="1577" r="5.5"/><circle cx="291.6" cy="1577" r="5.5"/><circle cx="433.5" cy="1577" r="5.5"/><circle cx="539.6" cy="1577" r="5.5"/><circle cx="787" cy="1577" r="5.5"/><circle cx="821.5" cy="1577" r="5.5"/><circle cx="924" cy="1577" r="5.5"/><circle cx="1061.5" cy="1577" r="5.5"/><circle cx="1726.3" cy="1577" r="5.5"/><circle cx="1746" cy="1577" r="5.5"/><circle cx="2004" cy="1577" r="5.5"/><circle cx="2054.6" cy="1577" r="5.5"/><circle cx="2226" cy="1577" r="5.5"/><circle cx="2260" cy="1577" r="5.5"/><circle cx="2467.5" cy="1577" r="5.5"/><circle cx="2568.5" cy="1577" r="5.5"/><circle cx="2602.5" cy="1577" r="5.5"/><circle cx="2774" cy="1577" r="5.5"/><circle cx="2911" cy="1577" r="5.5"/><circle cx="3123.3" cy="1577" r="5.5"/><circle cx="3477.5" cy="1577" r="5.5"/><circle cx="3760.5" cy="1577" r="5.5"/><circle cx="3866" cy="1577" r="5.5"/><circle cx="3901.8" cy="1577" r="5.5"/><circle cx="4451.6" cy="1577" r="5.5"/><circle cx="4657.5" cy="1577" r="5.5"/><circle cx="4692.2" cy="1577" r="5.5"/><circle cx="4726.3" cy="1577" r="5.5"/><circle cx="4897.2" cy="1577" r="5.5"/><circle cx="4931.6" cy="1577" r="5.5"/><circle cx="5742" cy="1577" r="5.5"/><circle cx="5777.8" cy="1577" r="5.5"/><circle cx="6025.3" cy="1577" r="5.5"/><circle cx="6541" cy="1577" r="5.5"/></g>
<g class="b"><circle cx="256.5" cy="1577" r="5.5"/><circle cx="468.6" cy="1577" r="5.5"/><circle cx="752" cy="1577" r="5.5"/><circle cx="1164.4" cy="1577" r="5.5"/><circle cx="1445.5" cy="1577" r="5.5"/><circle cx="1677.5" cy="1577" r="5.5"/><circle cx="1883.2" cy="1577" r="5.5"/><circle cx="1917.3" cy="1577" r="5.5"/><circle cx="2020" cy="1577" r="5.5"/><circle cx="2089.5" cy="1577" r="5.5"/><circle cx="2363" cy="1577" r="5.5"/><circle cx="2431.5" cy="1577" r="5.5"/><circle cx="3229.5" cy="1577" r="5.5"/><circle cx="3442" cy="1577" r="5.5"/><circle cx="3512" cy="1577" r="5.5"/><circle cx="3654.3" cy="1577" r="5.5"/><circle cx="3937.4" cy="1577" r="5.5"/><circle cx="4212.4" cy="1577" r="5.5"/><circle cx="4383.6" cy="1577" r="5.5"/><circle cx="4554.9" cy="1577" r="5.5"/><circle cx="4829" cy="1577" r="5.5"/><circle cx="5034.5" cy="1577" r="5.5"/><circle cx="5069.8" cy="1577" r="5.5"/><circle cx="5211.4" cy="1577" r="5.5"/><circle cx="5247.3" cy="1577" r="5.5"/><circle cx="5530" cy="1577" r="5.5"/><circle cx="5565.3" cy="1577" r="5.5"/><circle cx="5848.5" cy="1577" r="5.5"/><circle cx="5955" cy="1577" r="5.5"/><circle cx="6130.5" cy="1577" r="5.5"/></g>
<g class="o"><circle cx="681.3" cy="1577" r="5.5"/><circle cx="716.4" cy="1577" r="5.5"/><circle cx="1198.3" cy="1577" r="5.5"/><circle cx="1232.7" cy="1577" r="5.5"/><circle cx="1688" cy="1577" r="5.5"/><circle cx="2705" cy="1577" r="5.5"/><circle cx="2946" cy="1577" r="5.5"/><circle cx="3158.5" cy="1577" r="5.5"/><circle cx="3300.3" cy="1577" r="5.5"/><circle cx="3725" cy="1577" r="5.5"/></g>
</g>
</svg>
